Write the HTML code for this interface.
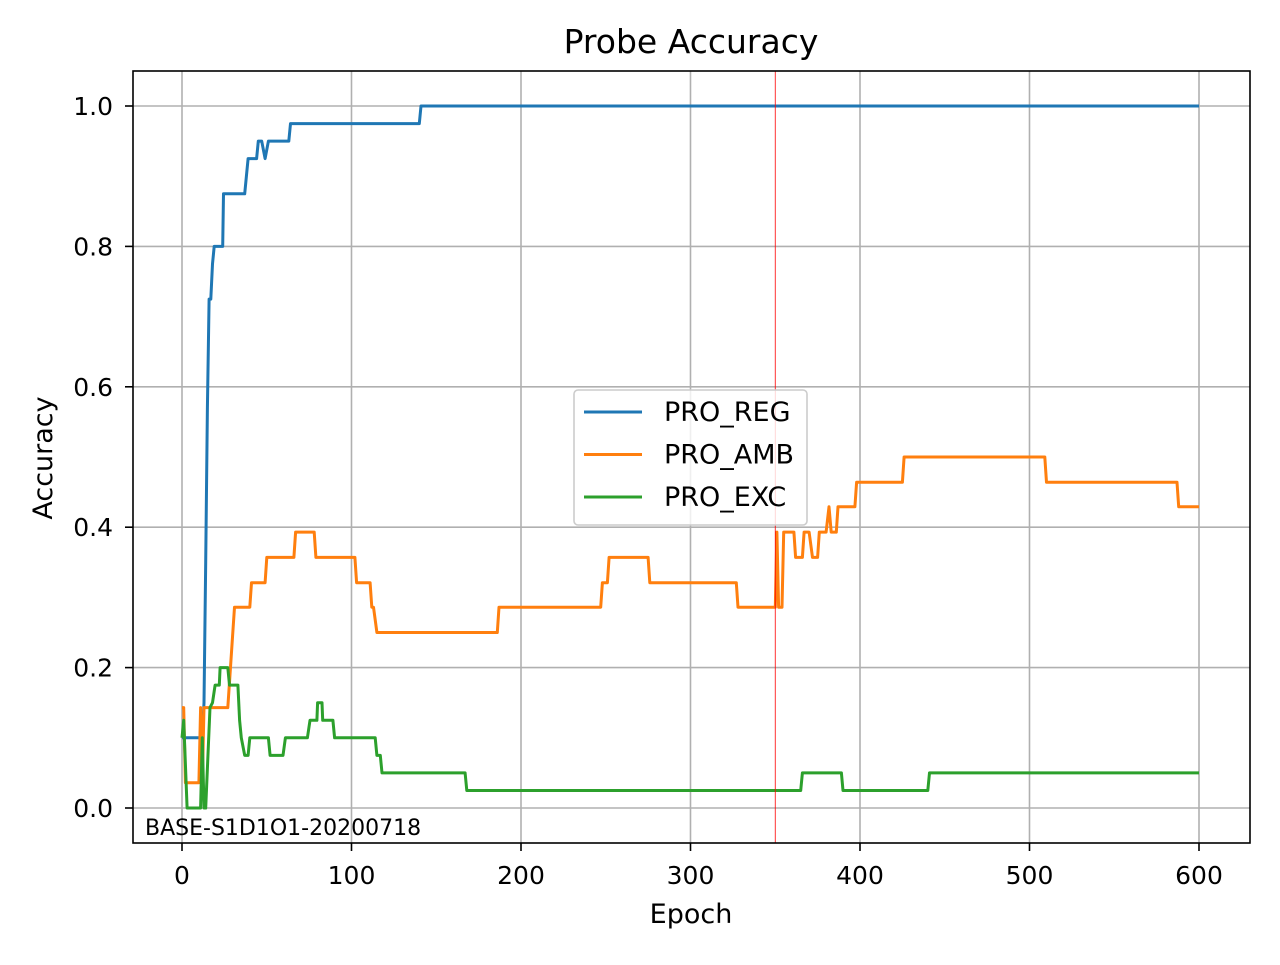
<!DOCTYPE html>
<html><head><meta charset="utf-8"><style>
html,body{margin:0;padding:0;background:#fff;}
svg text{font-family:"DejaVu Sans","Liberation Sans",sans-serif;fill:#000;}
</style></head><body>
<svg id="chart" width="1280" height="960" xmlns="http://www.w3.org/2000/svg">
<rect x="0" y="0" width="1280" height="960" fill="#fff"/>
<g id="grid"></g>
<g id="series"></g>
<g id="axes"></g>
<text x="691" y="53" font-size="33" text-anchor="middle">Probe Accuracy</text>
<text x="691" y="923" font-size="27" text-anchor="middle">Epoch</text>
<text transform="translate(52,458) rotate(-90)" font-size="27" text-anchor="middle">Accuracy</text>
<text x="145" y="835" font-size="22">BASE-S1D1O1-20200718</text>
</svg>
<script>
const xTicks=[0,100,200,300,400,500,600];
const yTicks=[0.0,0.2,0.4,0.6,0.8,1.0];
const seriesNames=["PRO_REG","PRO_AMB","PRO_EXC"];
const seriesColors=["#1f77b4","#ff7f0e","#2ca02c"];
const markerEpoch=350;
const regEpochs=[0,12,13,14,15,16,17,18,19,24,24.5,37,38,39,44,45,47,49,51,63,64,140,141,600];
const regValues=[0.1,0.1,0.15,0.35,0.57,0.725,0.725,0.775,0.8,0.8,0.875,0.875,0.9,0.925,0.925,0.95,0.95,0.925,0.95,0.95,0.975,0.975,1.0,1.0];
const ambEpochs=[0,1,2,10,11,12,13,14,16,27,31,40,41,49,50,66,67,78,79,102,103,111,112,113,115,186,187,247,248,251,252,275,276,327,328,350,351,352,354,355,357,361,362,366,367,370,372,375,376,380,381.7,383,386,387,397,398,425,426,509,510,587,588,600];
const ambValues=[0.143,0.143,0.036,0.036,0.143,0.036,0.143,0.143,0.143,0.143,0.286,0.286,0.321,0.321,0.357,0.357,0.393,0.393,0.357,0.357,0.321,0.321,0.286,0.286,0.25,0.25,0.286,0.286,0.321,0.321,0.357,0.357,0.321,0.321,0.286,0.286,0.393,0.286,0.286,0.393,0.393,0.393,0.357,0.357,0.393,0.393,0.357,0.357,0.393,0.393,0.429,0.393,0.393,0.429,0.429,0.464,0.464,0.5,0.5,0.464,0.464,0.429,0.429];
const excEpochs=[0,1,3,11,12,13,14,16.5,18,19.5,22,22.5,27,28,33,34,35,37,39,40,51,52,59.6,61,74,75.5,79.6,80,82.6,83,89,90,114,115,117,118,167,168,365,366,389,390,440,441,600];
const excValues=[0.1,0.125,0,0,0.1,0,0,0.143,0.15,0.175,0.175,0.2,0.2,0.175,0.175,0.125,0.1,0.075,0.075,0.1,0.1,0.075,0.075,0.1,0.1,0.125,0.125,0.15,0.15,0.125,0.125,0.1,0.1,0.075,0.075,0.05,0.05,0.025,0.025,0.05,0.05,0.025,0.025,0.05,0.05];

const L=133,R=1250,T=71,B=843;
const xs=e=>182+e*(1199-182)/600;
const ys=v=>808-v*(808-106);
const NS="http://www.w3.org/2000/svg";
function mk(tag,attrs,parent){const el=document.createElementNS(NS,tag);for(const k in attrs)el.setAttribute(k,attrs[k]);parent.appendChild(el);return el;}
const grid=document.getElementById('grid'),axes=document.getElementById('axes'),ser=document.getElementById('series');
xTicks.forEach(t=>{
  const g=mk('line',{x1:xs(t),x2:xs(t),y1:T,y2:B,stroke:'#b0b0b0','stroke-width':1.6},grid);
  
  
  mk('line',{x1:xs(t),x2:xs(t),y1:B,y2:B+8,stroke:'#000','stroke-width':1.6},axes);
  const tx=mk('text',{x:xs(t),y:B+41,'font-size':25,'text-anchor':'middle'},axes);
  tx.textContent=t;
  
  
});
yTicks.forEach(t=>{
  const g=mk('line',{x1:L,x2:R,y1:ys(t),y2:ys(t),stroke:'#b0b0b0','stroke-width':1.6},grid);
  
  
  mk('line',{x1:L-8,x2:L,y1:ys(t),y2:ys(t),stroke:'#000','stroke-width':1.6},axes);
  const tx=mk('text',{x:L-20,y:ys(t)+9,'font-size':25,'text-anchor':'end'},axes);
  tx.textContent=t.toFixed(1);
  
  
});
const frame=mk('rect',{x:L,y:T,width:R-L,height:B-T,fill:'none',stroke:'#000','stroke-width':1.6},axes);


const data=[[regEpochs,regValues],[ambEpochs,ambValues],[excEpochs,excValues]];
data.forEach((d,i)=>{
  const pts=d[0].map((e,j)=>xs(e).toFixed(1)+','+ys(d[1][j]).toFixed(1)).join(' ');
  const p=mk('polyline',{points:pts,fill:'none',stroke:seriesColors[i],'stroke-width':3,'stroke-linejoin':'round'},ser);
  
  
});
const vl=mk('line',{x1:xs(markerEpoch),x2:xs(markerEpoch),y1:T,y2:B,stroke:'#ff0000','stroke-width':0.8},ser);


const leg=mk('g',{},document.getElementById('chart'));


mk('rect',{x:574,y:390,width:233,height:135,rx:4,fill:'#fff','fill-opacity':0.8,stroke:'#cccccc','stroke-width':1.6},leg);
seriesNames.forEach((n,i)=>{
  const y=412+i*42.5;
  mk('line',{x1:584,x2:642,y1:y,y2:y,stroke:seriesColors[i],'stroke-width':3},leg);
  const t=mk('text',{x:664,y:y+9,'font-size':27},leg);
  t.textContent=n;
  
  
});
</script>
</body></html>
